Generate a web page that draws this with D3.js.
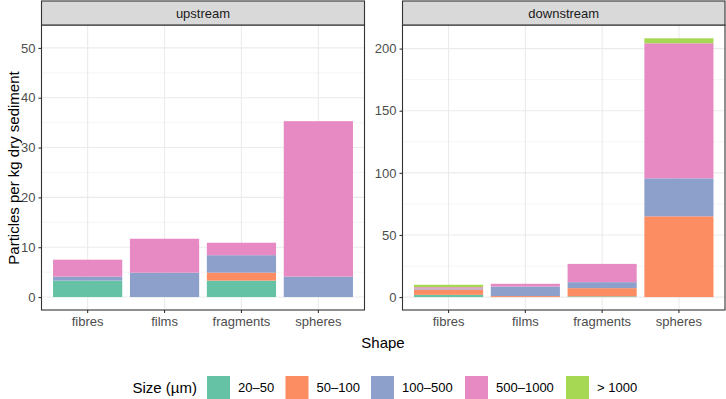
<!DOCTYPE html>
<html>
<head>
<meta charset="utf-8">
<script src="https://cdn.jsdelivr.net/npm/d3@7"></script>
<style>
  body { margin: 0; background: #fff; }
  text { font-family: "Liberation Sans", Arial, sans-serif; }
</style>
</head>
<body>
<svg id="chart" width="726" height="399"></svg>
<script>
// Data
const shapes = ["fibres", "films", "fragments", "spheres"];
const sizes = ["20\u201350", "50\u2013100", "100\u2013500", "500\u20131000", "> 1000"];
const sizeColors = ["#66C2A5", "#FC8D62", "#8DA0CB", "#E78AC3", "#A6D854"];

// values per shape, in size order
const upstream = [
    [3.3, 0, 0.8, 3.4, 0],     // fibres
    [0, 0, 4.9, 6.8, 0],       // films
    [3.3, 1.6, 3.5, 2.5, 0],   // fragments
    [0, 0, 4.1, 31.2, 0]       // spheres
];
const downstream = [
    [1.8, 4.3, 0.8, 1.1, 1.9],
    [0, 0.8, 7.7, 2.2, 0],
    [0.6, 6.6, 4.8, 14.7, 0],
    [0, 65, 30.6, 108.7, 4]
];
const upTicks = [0, 10, 20, 30, 40, 50];
const downTicks = [0, 50, 100, 150, 200];

var svg = d3.select("#chart");
var panelTop = 25, panelBottom = 310, stripTop = 1;

// draw one facet panel
function drawPanel(x0, x1, title, values, domain, ticks) {
    var x = d3.scaleBand().domain(shapes).range([x0, x1]).paddingInner(0.1).paddingOuter(0.15);
    var y = d3.scaleLinear().domain(domain).range([panelBottom, panelTop]);
    var g = svg.append("g");

    // minor grid
    var step = ticks[1] - ticks[0];
    var minor = ticks.map(t => t + step / 2).filter(t => y(t) > panelTop);
    g.selectAll(".minor").data(minor).enter().append("line")
        .attr("x1", x0).attr("x2", x1)
        .attr("y1", d => y(d)).attr("y2", d => y(d))
        .attr("stroke", "#EBEBEB").attr("stroke-width", 0.55);
    // major grid
    g.selectAll(".major").data(ticks).enter().append("line")
        .attr("x1", x0).attr("x2", x1)
        .attr("y1", d => y(d)).attr("y2", d => y(d))
        .attr("stroke", "#EBEBEB").attr("stroke-width", 1.1);
    g.selectAll(".vgrid").data(shapes).enter().append("line")
        .attr("x1", d => x(d) + x.bandwidth() / 2).attr("x2", d => x(d) + x.bandwidth() / 2)
        .attr("y1", panelTop).attr("y2", panelBottom)
        .attr("stroke", "#EBEBEB").attr("stroke-width", 1.1);

    // stacked bars
    var rows = shapes.map((s, i) => {
        var r = { shape: s };
        sizes.forEach((k, j) => r[k] = values[i][j]);
        return r;
    });
    var stacked = d3.stack().keys(sizes)(rows);
    stacked.forEach((layer, j) => {
        g.selectAll(".bar" + j).data(layer.filter(d => d[1] - d[0] > 0)).enter().append("rect")
            .attr("x", d => x(d.data.shape))
            .attr("width", x.bandwidth())
            .attr("y", d => y(d[1]))
            .attr("height", d => y(d[0]) - y(d[1]))
            .attr("fill", sizeColors[j]);
    });

    // panel border
    g.append("rect")
        .attr("x", x0).attr("y", panelTop)
        .attr("width", x1 - x0).attr("height", panelBottom - panelTop)
        .attr("fill", "none").attr("stroke", "#333333").attr("stroke-width", 1.1);

    // strip
    g.append("rect")
        .attr("x", x0).attr("y", stripTop)
        .attr("width", x1 - x0).attr("height", panelTop - stripTop)
        .attr("fill", "#D9D9D9").attr("stroke", "#333333").attr("stroke-width", 1.1);
    g.append("text")
        .attr("x", (x0 + x1) / 2).attr("y", (stripTop + panelTop) / 2)
        .attr("text-anchor", "middle").attr("dominant-baseline", "central")
        .attr("font-size", 13).attr("fill", "#1A1A1A")
        .text(title);

    // y axis
    var yAxis = g.append("g").attr("transform", "translate(" + x0 + ",0)")
        .call(d3.axisLeft(y).tickValues(ticks).tickSize(3).tickPadding(3));
    yAxis.select(".domain").remove();
    yAxis.selectAll("line").attr("stroke", "#333333").attr("stroke-width", 1.1);
    yAxis.selectAll("text").attr("font-size", 13).attr("fill", "#4D4D4D")
        .style("font-family", "Liberation Sans, Arial, sans-serif");

    // x axis
    var xAxis = g.append("g").attr("transform", "translate(0," + panelBottom + ")")
        .call(d3.axisBottom(x).tickSize(3).tickPadding(4));
    xAxis.select(".domain").remove();
    xAxis.selectAll("line").attr("stroke", "#333333").attr("stroke-width", 1.1);
    xAxis.selectAll("text").attr("font-size", 13).attr("fill", "#4D4D4D")
        .style("font-family", "Liberation Sans, Arial, sans-serif");
}

drawPanel(41.5, 364.5, "upstream", upstream, [-2.6, 54.6], upTicks);
drawPanel(402.5, 725, "downstream", downstream, [-10.4, 219], downTicks);

// axis titles
svg.append("text")
    .attr("transform", "translate(13,168) rotate(-90)")
    .attr("text-anchor", "middle").attr("dominant-baseline", "central")
    .attr("font-size", 15).attr("fill", "#000")
    .text("Particles per kg dry sediment");
svg.append("text")
    .attr("x", 383).attr("y", 342)
    .attr("text-anchor", "middle").attr("dominant-baseline", "central")
    .attr("font-size", 15).attr("fill", "#000")
    .text("Shape");

// legend
var legend = svg.append("g");
legend.append("text")
    .attr("x", 197).attr("y", 387)
    .attr("text-anchor", "end").attr("dominant-baseline", "central")
    .attr("font-size", 15).attr("fill", "#000")
    .text("Size (\u00B5m)");
var keyX = [207, 285.5, 371, 465, 566];
sizes.forEach((s, i) => {
    legend.append("rect")
        .attr("x", keyX[i]).attr("y", 376)
        .attr("width", 23).attr("height", 23)
        .attr("fill", sizeColors[i]);
    legend.append("text")
        .attr("x", keyX[i] + 31).attr("y", 387.5)
        .attr("dominant-baseline", "central")
        .attr("font-size", 13).attr("fill", "#000")
        .text(s);
});
</script>
</body>
</html>
